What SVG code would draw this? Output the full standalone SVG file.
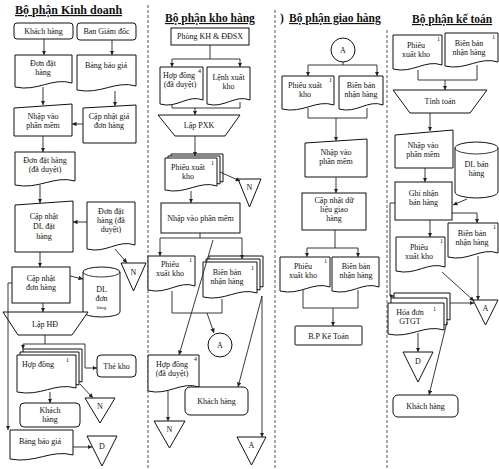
<svg xmlns="http://www.w3.org/2000/svg" width="499" height="469" viewBox="0 0 499 469">
<style>
.b{fill:#fff;stroke:#111;stroke-width:1}
.t{font-family:"Liberation Serif","Times New Roman",serif;font-size:8px;fill:#111;text-anchor:middle}
.s{font-family:"Liberation Serif","Times New Roman",serif;font-size:6px;fill:#111}
.h{font-family:"Liberation Serif","Times New Roman",serif;font-size:11.5px;font-weight:bold;fill:#111;text-decoration:underline}
.c{fill:none;stroke:#222;stroke-width:0.9}
.a{marker-end:url(#ah)}
.sep{fill:none;stroke:#555;stroke-width:1;stroke-dasharray:3 2}
</style>
<defs>
<marker id="ah" viewBox="0 0 6 6" refX="6" refY="3" markerWidth="5" markerHeight="5" orient="auto"><path d="M0,0 L6,3 L0,6 Z" fill="#222"/></marker>
</defs>
<rect width="499" height="469" fill="#fff"/>
<g id="separators">
<path class="sep" d="M148,5 V469"/>
<path class="sep" d="M275,10 V469"/>
<path class="sep" d="M387,30 V469"/>
</g>
<g id="titles">
<text class="h" x="15" y="14" style="font-size:12px">Bộ phận Kinh doanh</text>
<text class="h" x="165" y="22">Bộ phận kho hàng</text>
<text class="h" x="280" y="22" style="text-decoration:none">)</text>
<text class="h" x="289" y="22">Bộ phận giao hàng</text>
<text class="h" x="412" y="23">Bộ phận kế toán</text>
</g>
<!-- Column 1 -->
<g id="kd-khachhang"><rect class="b" x="14" y="23" width="59" height="16" rx="3"/><text class="t" x="43.5" y="34">Khách hàng</text></g>
<g id="kd-bangiamdoc"><rect class="b" x="77" y="23" width="59" height="17" rx="3"/><text class="t" x="106.5" y="34">Ban Giám đốc</text></g>
<g id="kd-dondathang"><path class="b" d="M15,55 H72 V83 C52,77 38,92 15,87 Z"/><text class="t" x="43" y="66">Đơn đặt</text><text class="t" x="43" y="75">hàng</text></g>
<g id="kd-bangbaogia"><path class="b" d="M77,55 H136 V86 C115,80 101,95 77,90 Z"/><text class="t" x="106" y="68">Bảng báo giá</text></g>
<g id="kd-nhapvao"><path class="b" d="M14,108 L72,104 V136 H14 Z"/><text class="t" x="43" y="119">Nhập vào</text><text class="t" x="43" y="128">phần mềm</text></g>
<g id="kd-capnhatgia"><path class="b" d="M83,108 L136,105 V143 H83 Z"/><text class="t" x="109" y="119">Cập nhật giá</text><text class="t" x="109" y="128">đơn hàng</text></g>
<g id="kd-ddh-duyet"><path class="b" d="M15,152 H75 V181 C54,175 39,190 15,185 Z"/><text class="t" x="45" y="163">Đơn đặt hàng</text><text class="t" x="45" y="172">(đã duyệt)</text></g>
<g id="kd-capnhatdl"><path class="b" d="M15,205 L73,201 V252 H15 Z"/><text class="t" x="44" y="219">Cập nhật</text><text class="t" x="44" y="229">DL đặt</text><text class="t" x="44" y="239">hàng</text></g>
<g id="kd-ddh-duyet2"><path class="b" d="M87,202 H135 V245 C118,239 106,254 87,249 Z"/><text class="t" x="111" y="214">Đơn đặt</text><text class="t" x="111" y="223">hàng (đã</text><text class="t" x="111" y="232">duyệt)</text></g>
<g id="kd-capnhatdh"><rect class="b" x="12" y="267" width="58" height="36"/><text class="t" x="41" y="281">Cập nhật</text><text class="t" x="41" y="290">đơn hàng</text></g>
<g id="kd-dldonhang"><path class="b" d="M83,272 A18.5,5 0 0 1 120,272 V312 A18.5,5 0 0 1 83,312 Z"/><path class="c" d="M83,272 A18.5,5 0 0 0 120,272"/><text class="t" x="101.5" y="292">DL</text><text class="t" x="101.5" y="301">đơn</text><text class="t" x="101.5" y="309" style="font-size:5px">hàng</text></g>
<g id="kd-tri-n1"><path class="b" d="M121,263 L146,263 L133.5,291 Z"/><text class="t" x="133.5" y="275">N</text></g>
<g id="kd-laphd"><path class="b" d="M3,312 L88,312 L72,335 L18,335 Z"/><text class="t" x="45" y="327">Lập HĐ</text></g>
<g id="kd-hopdong"><path class="b" transform="translate(6,-6)" d="M17,355 H76 V388 C55,382 41,397 17,392 Z"/><path class="b" transform="translate(3,-3)" d="M17,355 H76 V388 C55,382 41,397 17,392 Z"/><path class="b" d="M17,355 H76 V388 C55,382 41,397 17,392 Z"/><text class="t" x="38" y="367">Hợp đồng</text><text class="s" x="66" y="362">1</text></g>
<g id="kd-thekho"><rect class="b" x="97" y="355" width="39" height="22" rx="4"/><text class="t" x="116.5" y="369">Thẻ kho</text></g>
<g id="kd-tri-n2"><path class="b" d="M85,398 L115,398 L100,423 Z"/><text class="t" x="100" y="409">N</text></g>
<g id="kd-khachhang2"><rect class="b" x="20" y="403" width="60" height="24" rx="4"/><text class="t" x="50" y="413">Khách</text><text class="t" x="50" y="422">hàng</text></g>
<g id="kd-bangbaogia2"><path class="b" d="M10,430 H73 V455 C51,449 35,464 10,459 Z"/><text class="t" x="40" y="444">Bảng báo giá</text></g>
<g id="kd-tri-d"><path class="b" d="M87,436 L117,436 L102,466 Z"/><text class="t" x="102" y="449">D</text></g>
<!-- Column 2 -->
<g id="kh-phongkh"><rect class="b" x="171" y="28" width="78" height="17"/><text class="t" x="210" y="39">Phòng KH &amp; ĐĐSX</text></g>
<g id="kh-hopdong"><path class="b" d="M160,67 H203 V100 C188,94 177,109 160,104 Z"/><text class="t" x="179" y="78">Hợp đồng</text><text class="t" x="180" y="87">(đã duyệt)</text><text class="s" x="198" y="73">4</text></g>
<g id="kh-lenhxuat"><path class="b" d="M207,67 H250 V100 C235,94 224,109 207,104 Z"/><text class="t" x="228.5" y="80">Lệnh xuất</text><text class="t" x="228.5" y="89">kho</text></g>
<g id="kh-lappxk"><path class="b" d="M158,115 L240,115 L225,136 L175,136 Z"/><text class="t" x="199" y="128">Lập PXK</text></g>
<g id="kh-phieuxuat"><path class="b" transform="translate(6,-4)" d="M165,158 H217 V186 C199,180 186,195 165,190 Z"/><path class="b" transform="translate(3,-2)" d="M165,158 H217 V186 C199,180 186,195 165,190 Z"/><path class="b" d="M165,158 H217 V186 C199,180 186,195 165,190 Z"/><text class="t" x="188" y="170">Phiếu xuất</text><text class="t" x="188" y="179">kho</text><text class="s" x="211" y="165">1</text></g>
<g id="kh-tri-n1"><path class="b" d="M238,179 L261,179 L249.5,207 Z"/><text class="t" x="249.5" y="190">N</text></g>
<g id="kh-nhapvao"><rect class="b" x="161" y="203" width="79" height="30"/><text class="t" x="200.5" y="221">Nhập vào phần mềm</text></g>
<g id="kh-phieuxuat2"><path class="b" d="M148,256 H195 V286 C179,280 167,295 148,290 Z"/><text class="t" x="170" y="267">Phiếu</text><text class="t" x="170" y="276">xuất kho</text><text class="s" x="189" y="262">1</text></g>
<g id="kh-bienban"><path class="b" transform="translate(6,-6)" d="M203,262 H257 V293 C238,287 225,302 203,297 Z"/><path class="b" transform="translate(3,-3)" d="M203,262 H257 V293 C238,287 225,302 203,297 Z"/><path class="b" d="M203,262 H257 V293 C238,287 225,302 203,297 Z"/><text class="t" x="227" y="275">Biên bản</text><text class="t" x="227" y="284">nhận hàng</text><text class="s" x="251" y="270">1</text></g>
<g id="kh-circle-a"><circle class="b" cx="220" cy="345" r="12"/><text class="t" x="220" y="348">A</text></g>
<g id="kh-hopdong2"><path class="b" d="M148,355 H199 V387 C181,381 168,396 148,391 Z"/><text class="t" x="172" y="367">Hợp đồng</text><text class="t" x="172" y="376">(đã duyệt)</text><text class="s" x="194" y="361">4</text></g>
<g id="kh-khachhang"><rect class="b" x="185" y="387" width="63" height="28" rx="5"/><text class="t" x="216.5" y="404">Khách hàng</text></g>
<g id="kh-tri-n2"><path class="b" d="M154,421 L185,421 L169.5,448 Z"/><text class="t" x="169.5" y="432">N</text></g>
<g id="kh-tri-a"><path class="b" d="M237,437 L266,437 L251.5,465 Z"/><text class="t" x="251.5" y="448">A</text></g>
<!-- Column 3 -->
<g id="gh-circle-a"><circle class="b" cx="343" cy="50" r="12"/><text class="t" x="343" y="53">A</text></g>
<g id="gh-phieuxuat"><path class="b" d="M282,76 H334 V105 C316,99 303,114 282,109 Z"/><text class="t" x="305" y="88">Phiếu xuất</text><text class="t" x="305" y="97">kho</text><text class="s" x="329" y="82">1</text></g>
<g id="gh-bienban"><path class="b" d="M339,76 H383 V105 C368,99 357,114 339,109 Z"/><text class="t" x="361" y="88">Biên bản</text><text class="t" x="361" y="97">nhận hàng</text></g>
<g id="gh-nhapvao"><path class="b" d="M305,143 L367,139 V177 H305 Z"/><text class="t" x="336" y="155">Nhập vào</text><text class="t" x="336" y="164">phần mềm</text></g>
<g id="gh-capnhat"><rect class="b" x="302" y="193" width="64" height="37"/><text class="t" x="334" y="203">Cập nhật dữ</text><text class="t" x="334" y="212">liệu giao</text><text class="t" x="334" y="221">hàng</text></g>
<g id="gh-phieuxuat2"><path class="b" d="M280,257 H330 V287 C313,281 300,296 280,291 Z"/><text class="t" x="303" y="269">Phiếu</text><text class="t" x="303" y="278">xuất kho</text><text class="s" x="324" y="263">1</text></g>
<g id="gh-bienban2"><path class="b" d="M332,257 H379 V287 C363,281 351,296 332,291 Z"/><text class="t" x="356" y="269">Biên bản</text><text class="t" x="356" y="278">nhận hàng</text></g>
<g id="gh-bpketoan"><rect class="b" x="295" y="326" width="67" height="19" rx="1"/><text class="t" x="328.5" y="339">B.P Kế Toán</text></g>
<!-- Column 4 -->
<g id="kt-phieuxuat"><path class="b" d="M393,35 H442 V65 C425,59 413,74 393,69 Z"/><text class="t" x="416" y="48">Phiếu</text><text class="t" x="416" y="57">xuất kho</text><text class="s" x="437" y="41">1</text></g>
<g id="kt-bienban"><path class="b" d="M445,33 H498 V62 C479,56 466,71 445,66 Z"/><text class="t" x="469" y="46">Biên bản</text><text class="t" x="469" y="55">nhận hàng</text><text class="s" x="492" y="39">1</text></g>
<g id="kt-tinhtoan"><path class="b" d="M393,90 L487,90 L470,113 L410,113 Z"/><text class="t" x="440" y="104">Tính toán</text></g>
<g id="kt-nhapvao"><path class="b" d="M395,135 L453,130 V168 H395 Z"/><text class="t" x="423" y="148">Nhập vào</text><text class="t" x="423" y="157">phần mềm</text></g>
<g id="kt-dlbanhang"><path class="b" d="M455,148 A21.5,6 0 0 1 498,148 V192 A21.5,6 0 0 1 455,192 Z"/><path class="c" d="M455,148 A21.5,6 0 0 0 498,148"/><text class="t" x="476.5" y="167">DL bán</text><text class="t" x="476.5" y="176">hàng</text></g>
<g id="kt-ghinhan"><rect class="b" x="395" y="182" width="57" height="38"/><text class="t" x="423.5" y="196">Ghi nhận</text><text class="t" x="423.5" y="205">bán hàng</text></g>
<g id="kt-bienban2"><path class="b" d="M448,223 H498 V253 C481,247 468,262 448,257 Z"/><text class="t" x="472" y="236">Biên bản</text><text class="t" x="472" y="245">nhận hàng</text><text class="s" x="493" y="229">1</text></g>
<g id="kt-phieuxuat2"><path class="b" d="M396,237 H445 V267 C428,261 416,276 396,271 Z"/><text class="t" x="419" y="250">Phiếu</text><text class="t" x="419" y="259">xuất kho</text><text class="s" x="440" y="243">1</text></g>
<g id="kt-tri-a"><path class="b" d="M473,300 L498,300 L485.5,325 Z"/><text class="t" x="485.5" y="311">A</text></g>
<g id="kt-hoadon"><path class="b" transform="translate(6,-10)" d="M388,303 H444 V330 C424,324 410,339 388,334 Z"/><path class="b" transform="translate(3,-5)" d="M388,303 H444 V330 C424,324 410,339 388,334 Z"/><path class="b" d="M388,303 H444 V330 C424,324 410,339 388,334 Z"/><text class="t" x="410" y="315">Hóa đơn</text><text class="t" x="410" y="324">GTGT</text><text class="s" x="433" y="311">1</text></g>
<g id="kt-tri-d"><path class="b" d="M403,352 L433,352 L418,382 Z"/><text class="t" x="418" y="364">D</text></g>
<g id="kt-khachhang"><rect class="b" x="393" y="395" width="65" height="22" rx="5"/><text class="t" x="425.5" y="409">Khách hàng</text></g>
<g id="connectors">
<path class="c a" d="M44,39 V55"/>
<path class="c a" d="M112,40 V55"/>
<path class="c a" d="M43,87 V105"/>
<path class="c a" d="M115,91 V106"/>
<path class="c a" d="M83,124 H72"/>
<path class="c a" d="M43,136 V152"/>
<path class="c a" d="M40,185 V203"/>
<path class="c a" d="M87,222 H73"/>
<path class="c a" d="M40,252 V267"/>
<path class="c a" d="M115,249 L127,263"/>
<path class="c a" d="M70,276 L83,279"/>
<path class="c a" d="M43,303 V312"/>
<path class="c" d="M45,335 V344 M23,344 H85"/>
<path class="c a" d="M23,344 V349"/>
<path class="c a" d="M85,344 V368 H97"/>
<path class="c a" d="M80,384 L93,398"/>
<path class="c a" d="M50,392 V403"/>
<path class="c a" d="M12,283 H8 V430"/>
<path class="c a" d="M73,447 H92"/>
<path class="c" d="M210,45 V59 M172,59 H240"/>
<path class="c a" d="M172,59 V67"/>
<path class="c a" d="M240,59 V67"/>
<path class="c" d="M172,104 V108 H240 V102"/>
<path class="c a" d="M195,108 V115"/>
<path class="c a" d="M195,136 V156"/>
<path class="c a" d="M220,172 L240,181"/>
<path class="c a" d="M191,191 V203"/>
<path class="c" d="M200,233 V238 M160,238 H242"/>
<path class="c a" d="M160,238 V256"/>
<path class="c a" d="M242,238 V259"/>
<path class="c" d="M172,291 V313 H222 V299"/>
<path class="c a" d="M207,313 L214,333"/>
<path class="c a" d="M213,240 L179,355"/>
<path class="c a" d="M262,296 L238,387"/>
<path class="c a" d="M262,296 V437"/>
<path class="c a" d="M168,391 V421"/>
<path class="c" d="M343,62 V65 M308,65 H377"/>
<path class="c a" d="M308,65 V76"/>
<path class="c a" d="M377,65 V76"/>
<path class="c" d="M308,108 V118 H367 V108"/>
<path class="c a" d="M336,118 V141"/>
<path class="c a" d="M336,177 V193"/>
<path class="c" d="M335,230 V248 M307,248 H358"/>
<path class="c a" d="M307,248 V257"/>
<path class="c a" d="M358,248 V257"/>
<path class="c" d="M303,290 V308 H358 V290"/>
<path class="c a" d="M333,308 V326"/>
<path class="c" d="M418,70 V80 H477 V65"/>
<path class="c a" d="M445,80 V90"/>
<path class="c a" d="M430,113 V131"/>
<path class="c a" d="M425,168 V182"/>
<path class="c a" d="M467,199 L453,205"/>
<path class="c a" d="M452,213 H477 V223"/>
<path class="c a" d="M430,220 V237"/>
<path class="c a" d="M395,203 H390 V296 H394"/>
<path class="c a" d="M442,272 L474,301"/>
<path class="c a" d="M478,256 V300"/>
<path class="c a" d="M450,303 H474"/>
<path class="c a" d="M418,333 V352"/>
<path class="c a" d="M447,322 L429,395"/>
</g>
</svg>
